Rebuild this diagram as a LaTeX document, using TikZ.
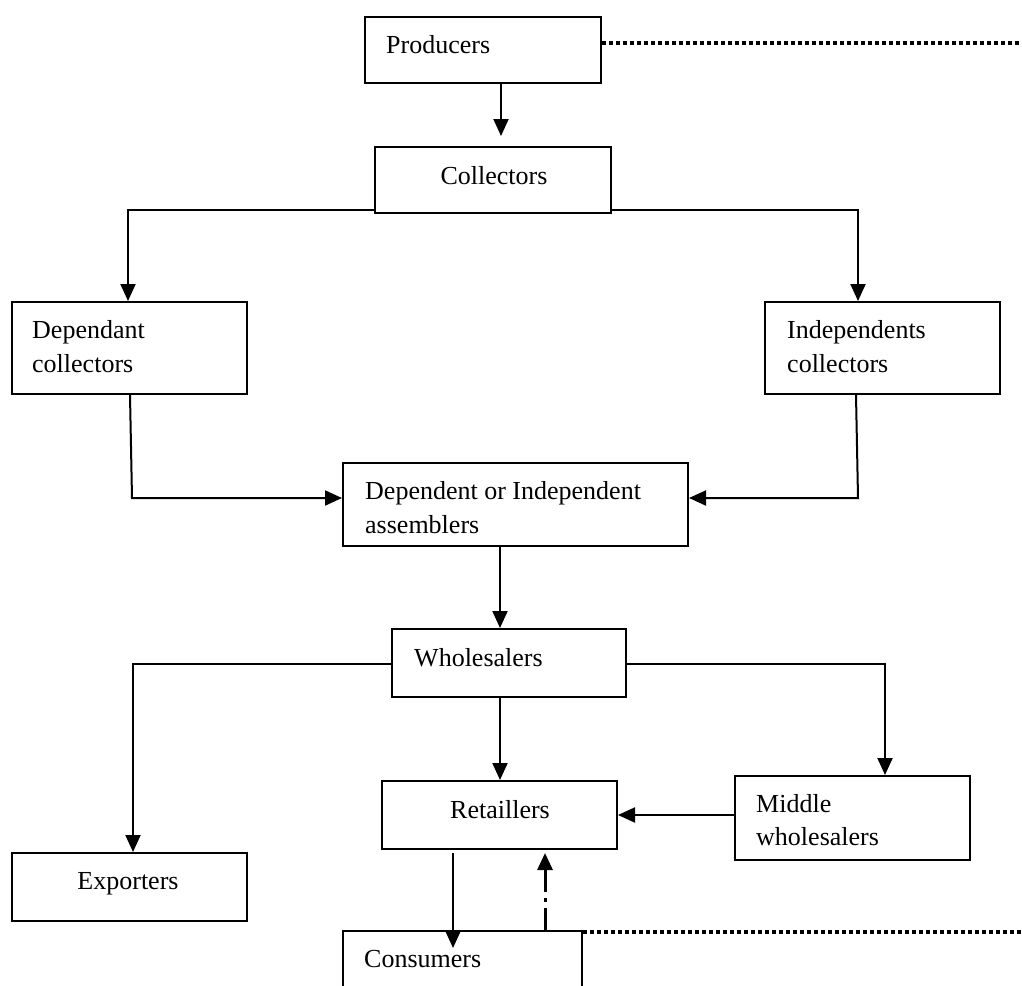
\documentclass[tikz,border=0pt]{standalone}
\usepackage{fontspec}
\setmainfont{Liberation Serif}
\usetikzlibrary{arrows.meta,calc}
\begin{document}
\begin{tikzpicture}[x=1pt,y=-1pt,
  box/.style={draw, line width=2pt, rectangle, inner sep=0pt},
  txt/.style={inner sep=0pt, font=\fontsize{26}{34}\selectfont},
  arr/.style={line width=2pt, -{Triangle[length=17pt,width=15pt]}},
  dotline/.style={line width=3.5pt, dash pattern=on 4pt off 3pt},
  dashdot/.style={line width=3pt, dash pattern=on 22pt off 6pt on 4pt off 6pt, -{Triangle[length=17pt,width=15pt]}}
]
\useasboundingbox (0,0) rectangle (1022,985);
\clip (0,0) rectangle (1022,985);
% boxes
\node[box, minimum width=236pt, minimum height=66pt] (prod) at (483,50) {};
\node[box, minimum width=236pt, minimum height=66pt] (coll) at (493,180) {};
\node[box, minimum width=235pt, minimum height=92pt] (dep) at (129.5,348) {};
\node[box, minimum width=235pt, minimum height=92pt] (ind) at (882.5,348) {};
\node[box, minimum width=345pt, minimum height=83pt] (asm) at (515.5,504.5) {};
\node[box, minimum width=234pt, minimum height=68pt] (whole) at (509,663) {};
\node[box, minimum width=235pt, minimum height=68pt] (ret) at (499.5,815) {};
\node[box, minimum width=235pt, minimum height=84pt] (mid) at (852.5,818) {};
\node[box, minimum width=235pt, minimum height=68pt] (exp) at (129.5,887) {};
\node[box, minimum width=239pt, minimum height=80pt] (cons) at (462.5,971) {};
% texts
\node[txt, anchor=base west] (tprod) at (386,53) {Producers};
\node[txt, anchor=base] (tcoll) at (494,184) {Collectors};
\node[txt, anchor=base west] (tdep1) at (32,338) {Dependant};
\node[txt, anchor=base west] (tdep2) at (32,372) {collectors};
\node[txt, anchor=base west] (tind1) at (787,338) {Independents};
\node[txt, anchor=base west] (tind2) at (787,372) {collectors};
\node[txt, anchor=base west] (tasm1) at (365,499) {Dependent or Independent};
\node[txt, anchor=base west] (tasm2) at (365,533) {assemblers};
\node[txt, anchor=base west] (twhole) at (414,666) {Wholesalers};
\node[txt, anchor=base] (tret) at (500,818) {Retaillers};
\node[txt, anchor=base west] (tmid1) at (756,812) {Middle};
\node[txt, anchor=base west] (tmid2) at (756,845) {wholesalers};
\node[txt, anchor=base] (texp) at (128,889) {Exporters};
\node[txt, anchor=base west] (tcons) at (364,967) {Consumers};
% connectors
\draw[arr] (501,0 |- prod.south) -- (501,136);
\draw[arr] (coll.west |- 0,210) -- (128,210) -- (128,0 |- dep.north);
\draw[arr] (coll.east |- 0,210) -- (858,210) -- (858,0 |- ind.north);
\draw[arr] (130,0 |- dep.south) -- (132,498) -- (asm.west |- 0,498);
\draw[arr] (856,0 |- ind.south) -- (858,498) -- (asm.east |- 0,498);
\draw[arr] (500,0 |- asm.south) -- (500,0 |- whole.north);
\draw[arr] (whole.west |- 0,664) -- (133,664) -- (133,0 |- exp.north);
\draw[arr] (500,0 |- whole.south) -- (500,0 |- ret.north);
\draw[arr] (whole.east |- 0,664) -- (885,664) -- (885,0 |- mid.north);
\draw[arr] (mid.west |- 0,815) -- (ret.east |- 0,815);
\draw[arr] (453,853) -- (453,948);
\draw[dashdot] (545,0 |- cons.north) -- (545,853);
\draw[dotline] (prod.east |- 0,43) -- (1022,43);
\draw[dotline] (cons.east |- 0,932) -- (1022,932);
\end{tikzpicture}
\end{document}
